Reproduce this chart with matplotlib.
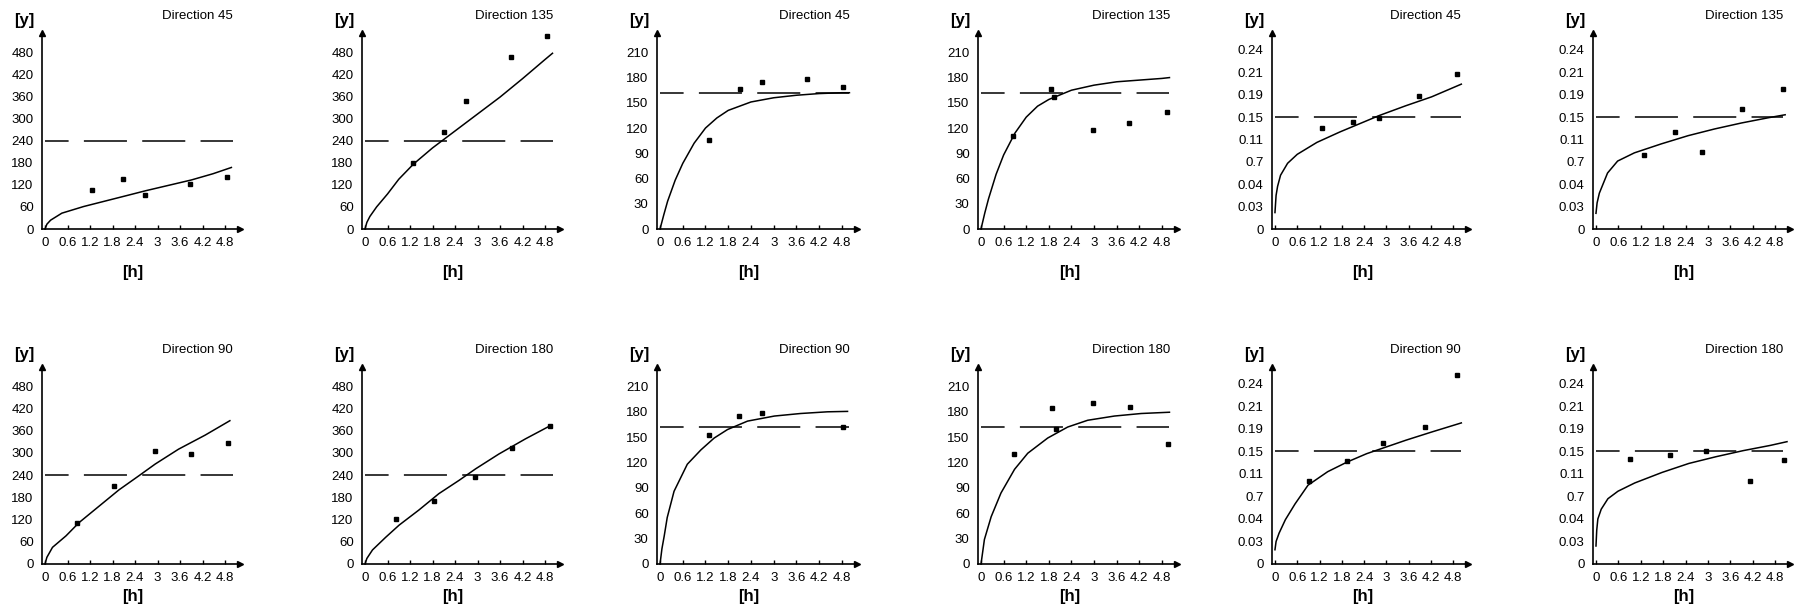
import matplotlib
matplotlib.use("Agg")
import matplotlib.pyplot as plt

plt.rcParams['font.family'] = ['Liberation Sans', 'DejaVu Sans']
plt.rcParams['lines.scale_dashes'] = False

# ---- shared axis ticks -------------------------------------------------
hour_ticks = [0, 0.6, 1.2, 1.8, 2.4, 3.0, 3.6, 4.2, 4.8]
hour_labels = ['0', '0.6', '1.2', '1.8', '2.4', '3', '3.6', '4.2', '4.8']

large_ticks = [0, 60, 120, 180, 240, 300, 360, 420, 480]
large_labels = ['0', '60', '120', '180', '240', '300', '360', '420', '480']
mid_ticks = [0, 30, 60, 90, 120, 150, 180, 210]
mid_labels = ['0', '30', '60', '90', '120', '150', '180', '210']
small_ticks = [0, 0.03, 0.06, 0.09, 0.12, 0.15, 0.18, 0.21, 0.24]
small_labels = ['0', '0.03', '0.04', '0.7', '0.11', '0.15', '0.19', '0.21', '0.24']

# reference levels (dashed lines)
large_limit = 240
mid_limit = 162
small_limit = 0.15

# ---- top row -----------------------------------------------------------
obs_h_1 = [1.25, 2.08, 2.66, 3.87, 4.84]
obs_1 = [107, 136, 92, 121, 142]
fit_h_1 = [0, 0.05, 0.15, 0.45, 1.03, 1.61, 2.19, 2.69, 3.40, 3.90, 4.48, 4.97]
fit_1 = [0, 13, 24, 43, 61, 76, 91, 104, 121, 133, 150, 167]

obs_h_2 = [1.29, 2.11, 2.68, 3.88, 4.84]
obs_2 = [179, 263, 348, 466, 525]
fit_h_2 = [0, 0.05, 0.13, 0.31, 0.6, 0.9, 1.29, 1.8, 2.4, 3.0, 3.6, 4.2, 4.8, 5.0]
fit_2 = [0, 18, 34, 60, 95, 135, 176, 220, 266, 312, 358, 408, 460, 477]

obs_h_3 = [1.28, 2.10, 2.69, 3.89, 4.84]
obs_3 = [106, 167, 175, 178, 169]
fit_h_3 = [0, 0.1, 0.2, 0.4, 0.6, 0.9, 1.2, 1.5, 1.8, 2.4, 3.0, 3.6, 4.2, 4.8, 5.0]
fit_3 = [0, 17, 33, 58, 78, 102, 120, 132, 141, 151, 156, 159, 161, 162, 162]

obs_h_4 = [0.85, 1.87, 1.93, 2.97, 3.93, 4.93]
obs_4 = [111, 167, 157, 118, 126, 139]
fit_h_4 = [0, 0.1, 0.2, 0.4, 0.6, 0.9, 1.2, 1.5, 1.8, 2.4, 3.0, 3.6, 4.2, 4.8, 5.0]
fit_4 = [0, 19, 36, 65, 88, 114, 133, 146, 154, 165, 171, 175, 177, 179, 180]

obs_h_5 = [1.28, 2.09, 2.81, 3.87, 4.91]
obs_5 = [0.135, 0.143, 0.148, 0.178, 0.207]
fit_h_5 = [0, 0.03, 0.07, 0.15, 0.34, 0.6, 1.13, 1.75, 2.28, 2.81, 3.52, 4.22, 5.02]
fit_5 = [0.022, 0.045, 0.057, 0.072, 0.088, 0.100, 0.116, 0.130, 0.141, 0.152, 0.165, 0.177, 0.194]

obs_h_6 = [1.28, 2.11, 2.85, 3.92, 5.00]
obs_6 = [0.099, 0.130, 0.103, 0.161, 0.188]
fit_h_6 = [0, 0.03, 0.09, 0.31, 0.58, 1.03, 1.75, 2.47, 3.18, 3.90, 4.62, 5.07]
fit_6 = [0.021, 0.035, 0.048, 0.075, 0.091, 0.102, 0.114, 0.125, 0.134, 0.142, 0.149, 0.153]

# ---- bottom row --------------------------------------------------------
obs_h_7 = [0.84, 1.84, 2.93, 3.90, 4.89]
obs_7 = [110, 211, 305, 296, 328]
fit_h_7 = [0, 0.05, 0.2, 0.56, 0.91, 1.44, 1.97, 2.50, 2.94, 3.56, 4.27, 4.93]
fit_7 = [0, 18, 45, 76, 112, 156, 200, 238, 270, 310, 348, 387]

obs_h_8 = [0.82, 1.83, 2.93, 3.93, 4.92]
obs_8 = [121, 169, 236, 314, 373]
fit_h_8 = [0, 0.05, 0.2, 0.55, 0.91, 1.44, 1.97, 2.51, 2.95, 3.57, 4.28, 4.95]
fit_8 = [0, 15, 38, 72, 105, 146, 190, 226, 257, 297, 338, 374]

obs_h_9 = [1.30, 2.09, 2.68, 4.83]
obs_9 = [152, 175, 179, 162]
fit_h_9 = [0, 0.05, 0.11, 0.19, 0.37, 0.72, 1.08, 1.43, 1.78, 2.31, 3.02, 3.71, 4.42, 4.95]
fit_9 = [0, 18, 33, 55, 86, 118, 135, 149, 159, 169, 175, 178, 180, 180.5]

obs_h_10 = [0.87, 1.88, 1.99, 2.98, 3.95, 4.96]
obs_10 = [130, 184, 160, 190, 186, 142]
fit_h_10 = [0, 0.09, 0.27, 0.53, 0.89, 1.24, 1.77, 2.30, 2.83, 3.54, 4.25, 5.0]
fit_10 = [0, 29, 56, 84, 112, 131, 149, 162, 170, 175, 178, 179.5]

obs_h_11 = [0.91, 1.95, 2.91, 4.03, 4.91]
obs_11 = [0.111, 0.137, 0.161, 0.183, 0.252]
fit_h_11 = [0, 0.03, 0.11, 0.28, 0.54, 0.89, 1.42, 1.95, 2.47, 3.0, 3.53, 4.23, 5.02]
fit_11 = [0.019, 0.030, 0.041, 0.059, 0.080, 0.105, 0.123, 0.136, 0.147, 0.156, 0.165, 0.176, 0.188]

obs_h_12 = [0.91, 1.99, 2.96, 4.12, 5.05]
obs_12 = [0.140, 0.145, 0.150, 0.111, 0.138]
fit_h_12 = [0, 0.02, 0.05, 0.14, 0.32, 0.59, 1.04, 1.77, 2.49, 3.22, 3.94, 4.67, 5.12]
fit_12 = [0.024, 0.045, 0.060, 0.073, 0.087, 0.097, 0.108, 0.122, 0.134, 0.143, 0.151, 0.158, 0.163]

top_directions = [45, 135, 45, 135, 45, 135]
bottom_directions = [90, 180, 90, 180, 90, 180]

scales = {
    'large': (large_ticks, large_labels, 532, large_limit),
    'mid': (mid_ticks, mid_labels, 233, mid_limit),
    'small': (small_ticks, small_labels, 0.2625, small_limit),
}
col_scale = ['large', 'large', 'mid', 'mid', 'small', 'small']

top_panels = [
    (obs_h_1, obs_1, fit_h_1, fit_1), (obs_h_2, obs_2, fit_h_2, fit_2),
    (obs_h_3, obs_3, fit_h_3, fit_3), (obs_h_4, obs_4, fit_h_4, fit_4),
    (obs_h_5, obs_5, fit_h_5, fit_5), (obs_h_6, obs_6, fit_h_6, fit_6),
]
bottom_panels = [
    (obs_h_7, obs_7, fit_h_7, fit_7), (obs_h_8, obs_8, fit_h_8, fit_8),
    (obs_h_9, obs_9, fit_h_9, fit_9), (obs_h_10, obs_10, fit_h_10, fit_10),
    (obs_h_11, obs_11, fit_h_11, fit_11), (obs_h_12, obs_12, fit_h_12, fit_12),
]

W, H = 1794, 612
fig = plt.figure(figsize=(W / 100, H / 100), dpi=100)
fig.patch.set_facecolor('white')

col_left = [42, 362, 657, 978, 1272, 1593]
col_width = [198, 198, 200, 199, 196, 197]
rows = [
    # (axis baseline px from top, axis height px, [h] offset px, panels, directions)
    (229, 196, 43, top_panels, top_directions),
    (564, 197, 32, bottom_panels, bottom_directions),
]

lw = 1.1
for base, height, hoff, panels, dirs in rows:
    for c in range(6):
        obs_h, obs, fit_h, fit = panels[c]
        ticks, labels, ytop, limit = scales[col_scale[c]]
        ax = fig.add_axes([col_left[c] / W, (H - base) / H,
                           col_width[c] / W, height / H])
        ax.set_xlim(-0.08, 5.2)
        ax.set_ylim(0, ytop)
        for s in ('top', 'right'):
            ax.spines[s].set_visible(False)
        for s in ('left', 'bottom'):
            ax.spines[s].set_linewidth(1.2)
        ax.set_xticks(hour_ticks)
        ax.set_xticklabels(hour_labels)
        ax.set_yticks(ticks)
        ax.set_yticklabels(labels)
        ax.tick_params(axis='x', direction='in', length=3, width=1, pad=6, labelsize=9.5)
        ax.tick_params(axis='y', length=0, pad=6, labelsize=9.5)

        # axis arrowheads
        ax.plot(0, 1, marker='^', color='black', markersize=5,
                transform=ax.transAxes, clip_on=False)
        ax.plot(1, 0, marker='>', color='black', markersize=5,
                transform=ax.transAxes, clip_on=False)

        # reference level, fitted curve, observations
        ax.plot([0, 5.0], [limit, limit], color='black', lw=lw,
                linestyle=(14, (31, 11)), clip_on=False)
        ax.plot(fit_h, fit, color='black', lw=lw, clip_on=False)
        ax.plot(obs_h, obs, linestyle='none', marker='s', color='black',
                markersize=2.6, clip_on=False)

        ax.text(0.965, 1.055, f'Direction {dirs[c]}', transform=ax.transAxes,
                ha='right', va='bottom', fontsize=9.5)
        ax.annotate('[y]', xy=(0, 1), xycoords='axes fraction',
                    xytext=(-18, 13), textcoords='offset pixels',
                    ha='center', va='center', fontsize=12, fontweight='bold')
        ax.annotate('[h]', xy=(2.35, 0), xycoords=('data', 'axes fraction'),
                    xytext=(0, -hoff), textcoords='offset pixels',
                    ha='center', va='center', fontsize=12, fontweight='bold')

fig.savefig('out.png', dpi=100, facecolor='white')
